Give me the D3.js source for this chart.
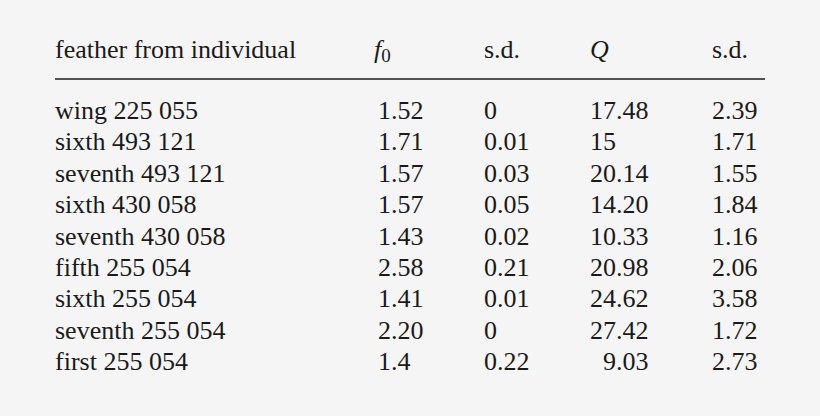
<!DOCTYPE html>
<html><head><meta charset="utf-8">
<script src="https://cdn.jsdelivr.net/npm/d3@7"></script>
<style>body{margin:0;background:#f5f5f5}svg text{font-family:"Liberation Serif","Times New Roman",Times,"DejaVu Serif",serif;font-size:26px;fill:#1a1a1a}</style>
</head><body><svg id="chart" width="820" height="416"></svg>
<script>
// 表のデータ
var feathers = ["wing 225 055","sixth 493 121","seventh 493 121","sixth 430 058","seventh 430 058","fifth 255 054","sixth 255 054","seventh 255 054","first 255 054"];
var f0   = ["1.52","1.71","1.57","1.57","1.43","2.58","1.41","2.20","1.4"];
var f0sd = ["0","0.01","0.03","0.05","0.02","0.21","0.01","0","0.22"];
var q    = ["17.48","15","20.14","14.20","10.33","20.98","24.62","27.42","9.03"];
var qsd  = ["2.39","1.71","1.55","1.84","1.16","2.06","3.58","1.72","2.73"];
var columns = ["f0","f0sd","q","qsd"];

var svg = d3.select("#chart");

// 行の位置(ベースライン)
var yScale = d3.scalePoint().domain(d3.range(feathers.length)).range([119, 370]);
// 小数点の位置
var xDec = d3.scaleOrdinal().domain(columns).range([391, 497, 616, 725]);
var xHead = d3.scaleOrdinal().domain(columns).range([374, 484, 590, 712]);

// ヘッダー
svg.append("text").attr("x", 55).attr("y", 58).text("feather from individual");
var h = svg.append("text").attr("x", xHead("f0")).attr("y", 58).style("font-style","italic").text("f");
h.append("tspan").style("font-style","normal").attr("dy", 4).style("font-size","19px").text("0");
svg.append("text").attr("x", xHead("f0sd")).attr("y", 58).text("s.d.");
svg.append("text").attr("x", xHead("q")).attr("y", 58).style("font-style","italic").text("Q");
svg.append("text").attr("x", xHead("qsd")).attr("y", 58).text("s.d.");

svg.append("line").attr("x1", 55).attr("x2", 765).attr("y1", 79).attr("y2", 79)
  .attr("stroke", "#1a1a1a").attr("stroke-width", 1.6);

// 行ラベル
svg.selectAll(".name").data(feathers).enter().append("text")
  .attr("class","name").attr("x", 55).attr("y", function(d,i){return yScale(i);}).text(function(d){return d;});

// 数値(小数点揃え)
var cols = {f0: f0, f0sd: f0sd, q: q, qsd: qsd};
columns.forEach(function(c){
  var g = svg.append("g");
  cols[c].forEach(function(v,i){
    var parts = v.split(".");
    g.append("text").attr("x", xDec(c)).attr("y", yScale(i)).attr("text-anchor","end").text(parts[0]);
    if (parts.length > 1)
      g.append("text").attr("x", xDec(c)).attr("y", yScale(i)).text("." + parts[1]);
  });
});
</script></body></html>
